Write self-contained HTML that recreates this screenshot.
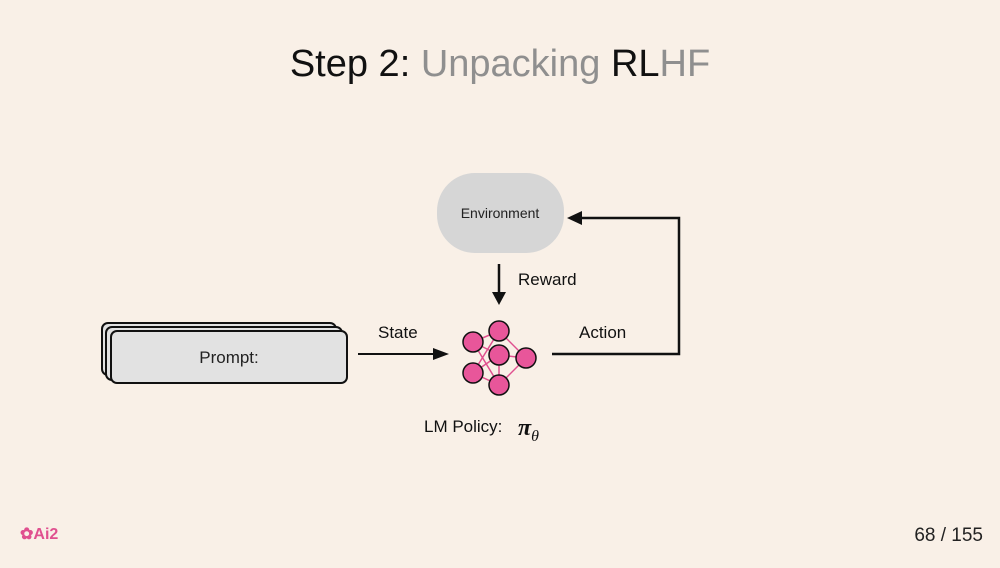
<!DOCTYPE html>
<html><head><style>
body{margin:0;width:1000px;height:563px;background:#f9f0e7;overflow:hidden;font-family:"Liberation Sans",sans-serif;}
</style></head><body>
<svg width="1000" height="563" viewBox="0 0 1000 563" xmlns="http://www.w3.org/2000/svg">
<rect width="1000" height="563" fill="#f9f0e7"/>
<text x="500" y="76" text-anchor="middle" font-size="38" font-family="Liberation Sans"><tspan fill="#111">Step 2: </tspan><tspan fill="#8f8f8f">Unpacking </tspan><tspan fill="#111">RL</tspan><tspan fill="#8f8f8f">HF</tspan></text>
<rect x="437" y="173" width="127" height="80" rx="38" fill="#d6d6d6"/>
<text x="500" y="218" text-anchor="middle" font-size="14" fill="#222">Environment</text>
<line x1="499" y1="264" x2="499" y2="295" stroke="#111" stroke-width="2.5"/>
<polygon points="492,292 506,292 499,305" fill="#111"/>
<text x="518" y="285" font-size="17" fill="#111">Reward</text>
<rect x="102" y="323" width="234" height="52" rx="6" fill="#e2e2e2" stroke="#111" stroke-width="2"/>
<rect x="106" y="327" width="236" height="53" rx="6" fill="#e2e2e2" stroke="#111" stroke-width="2"/>
<rect x="111" y="331" width="236" height="52" rx="6" fill="#e2e2e2" stroke="#111" stroke-width="2"/>
<text x="229" y="363" text-anchor="middle" font-size="17" fill="#222">Prompt:</text>
<line x1="358" y1="354" x2="436" y2="354" stroke="#111" stroke-width="2"/>
<polygon points="433,348 449,354 433,360" fill="#111"/>
<text x="378" y="338" font-size="17" fill="#111">State</text>
<g stroke="#e0508f" stroke-width="1.5">
<line x1="473" y1="342" x2="499" y2="331"/><line x1="473" y1="342" x2="499" y2="355"/><line x1="473" y1="342" x2="499" y2="385"/>
<line x1="473" y1="373" x2="499" y2="331"/><line x1="473" y1="373" x2="499" y2="355"/><line x1="473" y1="373" x2="499" y2="385"/>
<line x1="499" y1="331" x2="526" y2="358"/><line x1="499" y1="355" x2="526" y2="358"/><line x1="499" y1="385" x2="526" y2="358"/>
<line x1="499" y1="355" x2="499" y2="385"/>
</g>
<g fill="#e8569a" stroke="#111" stroke-width="1.5">
<circle cx="473" cy="342" r="10"/><circle cx="499" cy="331" r="10"/><circle cx="499" cy="355" r="10"/>
<circle cx="526" cy="358" r="10"/><circle cx="473" cy="373" r="10"/><circle cx="499" cy="385" r="10"/>
</g>
<polyline points="552,354 679,354 679,218 580,218" fill="none" stroke="#111" stroke-width="2.5"/>
<polygon points="582,211 567,218 582,225" fill="#111"/>
<text x="579" y="338" font-size="17" fill="#111">Action</text>
<text x="424" y="432" font-size="17" fill="#111">LM Policy:</text>
<text x="518" y="435" font-size="24" font-style="italic" font-weight="bold" font-family="Liberation Serif" fill="#111">π<tspan font-size="16" dy="6" font-weight="normal">θ</tspan></text>
<text x="20" y="539" font-size="16" font-weight="bold" fill="#e0508f">✿Ai2</text>
<text x="983" y="541" text-anchor="end" font-size="19" fill="#222">68 / 155</text>
</svg>
</body></html>
